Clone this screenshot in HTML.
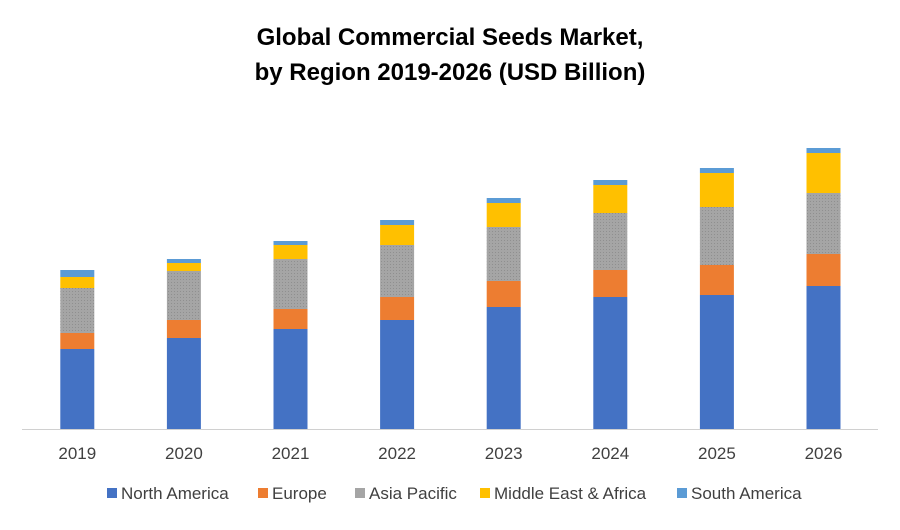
<!DOCTYPE html>
<html><head><meta charset="utf-8"><style>
body{margin:0;background:#fff;width:900px;height:525px;overflow:hidden;font-family:"Liberation Sans",sans-serif}
</style></head><body>
<svg width="900" height="525">
<defs><pattern id="hatch" width="3" height="3" patternUnits="userSpaceOnUse"><rect width="3" height="3" fill="#a5a5a5"/><rect width="1" height="1" fill="#8f8f8f"/></pattern></defs>
<text x="450" y="45" text-anchor="middle" font-size="24" font-weight="bold" fill="#000">Global Commercial Seeds Market,</text>
<text x="450" y="80" text-anchor="middle" font-size="24" font-weight="bold" fill="#000">by Region 2019-2026 (USD Billion)</text>
<line x1="22" y1="429.5" x2="878" y2="429.5" stroke="#d0d0d0" stroke-width="1"/>
<g id="bars"></g>
<g id="xlabels"></g>
<g id="legend"></g>
</svg>
<script>
const categories=["2019","2020","2021","2022","2023","2024","2025","2026"];
const northAmerica=[80,91,100,109,122,132,134,143];
const europe=[16,18,20,23,26,27,30,32];
const asiaPacific=[45,49,50,52,54,57,58,61];
const middleEastAfrica=[11,8,14,20,24,28,34,40];
const southAmerica=[7,4,4,5,5,5,5,5];
const seriesNames=["North America","Europe","Asia Pacific","Middle East & Africa","South America"];
const colors=["#4472c4","#ed7d31","url(#hatch)","#ffc000","#5b9bd5"];
const legendColors=["#4472c4","#ed7d31","#a5a5a5","#ffc000","#5b9bd5"];
const series=[northAmerica,europe,asiaPacific,middleEastAfrica,southAmerica];
const ns="http://www.w3.org/2000/svg";
const base=429, scale=1, x0=24, step=106.6, bw=34;
const xc=i=>x0+step*(i+0.5);
const y=v=>base-v*scale;
const gb=document.getElementById('bars');
categories.forEach((c,i)=>{
  let acc=0;
  series.forEach((s,k)=>{
    const r=document.createElementNS(ns,'rect');
    r.setAttribute('x',xc(i)-bw/2);r.setAttribute('width',bw);
    r.setAttribute('y',y(acc+s[i]));r.setAttribute('height',s[i]*scale);
    r.setAttribute('fill',colors[k]);
    
    
    gb.appendChild(r);acc+=s[i];
  });
  const t=document.createElementNS(ns,'text');
  t.setAttribute('x',xc(i));t.setAttribute('y',459);t.setAttribute('text-anchor','middle');
  t.setAttribute('font-size','17');t.setAttribute('fill','#404040');t.textContent=c;
  
  
  document.getElementById('xlabels').appendChild(t);
});
const lx=[107,258,355,480,677];
const gl=document.getElementById('legend');
seriesNames.forEach((n,k)=>{
  const r=document.createElementNS(ns,'rect');
  r.setAttribute('x',lx[k]);r.setAttribute('y',488);r.setAttribute('width',10);r.setAttribute('height',10);
  r.setAttribute('fill',legendColors[k]);
  
  
  gl.appendChild(r);
  const t=document.createElementNS(ns,'text');
  t.setAttribute('x',lx[k]+14);t.setAttribute('y',499);t.setAttribute('font-size','17');t.setAttribute('fill','#404040');
  t.textContent=n;
  
  
  gl.appendChild(t);
});
</script>
</body></html>
